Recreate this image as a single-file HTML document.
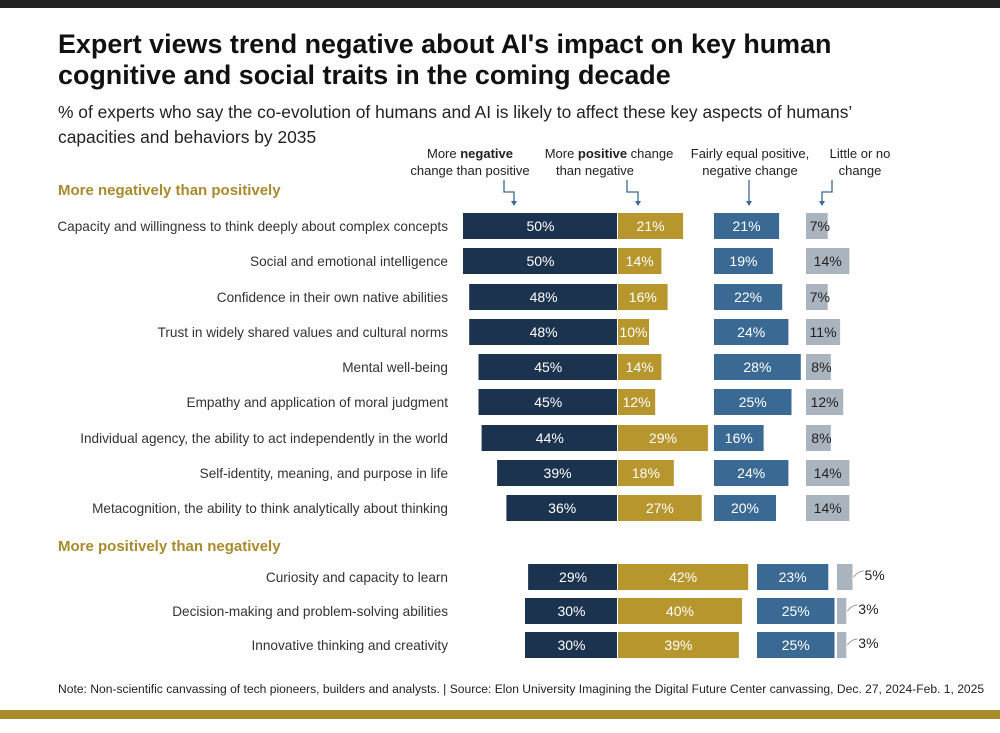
<!DOCTYPE html>
<html><head><meta charset="utf-8"><style>
body{margin:0;width:1000px;height:728px;background:#fff;overflow:hidden;font-family:"Liberation Sans",sans-serif;}
</style></head><body>
<svg width="1000" height="728" xmlns="http://www.w3.org/2000/svg" id="chart">
<rect x="0" y="0" width="1000" height="8" fill="#222"/>
<rect x="0" y="710" width="1000" height="9" fill="#a98a2c"/>
<text x="58" y="53" font-size="26.9" font-weight="bold" fill="#111">Expert views trend negative about AI's impact on key human</text>
<text x="58" y="84" font-size="26.9" font-weight="bold" fill="#111">cognitive and social traits in the coming decade</text>
<text x="58" y="118" font-size="17.4" fill="#222">% of experts who say the co-evolution of humans and AI is likely to affect these key aspects of humans’</text>
<text x="58" y="143" font-size="17.4" fill="#222">capacities and behaviors by 2035</text>
<g font-size="13" fill="#222" text-anchor="middle">
<text x="470" y="158">More <tspan font-weight="bold">negative</tspan></text><text x="470" y="175">change than positive</text>
<text x="609" y="158">More <tspan font-weight="bold">positive</tspan> change</text><text x="595" y="175">than negative</text>
<text x="750" y="158">Fairly equal positive,</text><text x="750" y="175">negative change</text>
<text x="860" y="158">Little or no</text><text x="860" y="175">change</text>
</g>
<g stroke="#3a6a94" fill="none" stroke-width="1.3">
<path d="M504 180 V192 H514 V202"/><path d="M627 180 V192 H638 V202"/><path d="M749 180 V202"/><path d="M832 180 V192 H822 V202"/>
</g>
<g fill="#3a6a94">
<path d="M511 201 h6 l-3 5z"/><path d="M635 201 h6 l-3 5z"/><path d="M746 201 h6 l-3 5z"/><path d="M819 201 h6 l-3 5z"/>
</g>
<text x="58" y="195" font-size="15" font-weight="bold" fill="#a98a2c">More negatively than positively</text>
<text x="58" y="551" font-size="15" font-weight="bold" fill="#a98a2c">More positively than negatively</text>
<g id="bars"></g>
<text x="58" y="693" font-size="12.1" fill="#222">Note: Non-scientific canvassing of tech pioneers, builders and analysts. | Source: Elon University Imagining the Digital Future Center canvassing,  Dec. 27, 2024-Feb. 1, 2025</text>
</svg>
<script>
const categories=["Capacity and willingness to think deeply about complex concepts","Social and emotional intelligence","Confidence in their own native abilities","Trust in widely shared values and cultural norms","Mental well-being","Empathy and application of moral judgment","Individual agency, the ability to act independently in the world","Self-identity, meaning, and purpose in life","Metacognition, the ability to think analytically about thinking","Curiosity and capacity to learn","Decision-making and problem-solving abilities","Innovative thinking and creativity"];
const negative=[50,50,48,48,45,45,44,39,36,29,30,30];
const positive=[21,14,16,10,14,12,29,18,27,42,40,39];
const equal=[21,19,22,24,28,25,16,24,20,23,25,25];
const little=[7,14,7,11,8,12,8,14,14,5,3,3];
const rowY=[226,261,297,332,367,402,438,473,508,577,611,645];
const NS="http://www.w3.org/2000/svg";
const g=document.getElementById('bars');
const k=3.1, mid=618, h=26;
function sx(v){return v*k;}
function rect(x,y,w,fill,name){const r=document.createElementNS(NS,'rect');r.setAttribute('x',x);r.setAttribute('y',y-h/2);r.setAttribute('width',w);r.setAttribute('height',h);r.setAttribute('fill',fill);


g.appendChild(r);}
function txt(x,y,s,fill,anchor,size,name){const t=document.createElementNS(NS,'text');t.setAttribute('x',x);t.setAttribute('y',y+5);t.setAttribute('fill',fill);t.setAttribute('text-anchor',anchor);t.setAttribute('font-size',size);t.textContent=s;


g.appendChild(t);}
categories.forEach((c,i)=>{
 const y=rowY[i], bottom=i>=9;
 txt(448,y,c,'#333','end',13.6,'category-label');
 const nw=sx(negative[i]);
 rect(mid-nw,y,nw-1,'#1c3350','bar-negative');
 txt(mid-nw/2,y,negative[i]+'%','#fff','middle',14,'value-negative');
 const pw=sx(positive[i]);
 rect(mid,y,pw,'#b8962e','bar-positive');
 txt(mid+pw/2,y,positive[i]+'%','#fff','middle',14,'value-positive');
 const ex=bottom?757:714, ew=sx(equal[i]);
 rect(ex,y,ew,'#3a6a94','bar-equal');
 txt(ex+ew/2,y,equal[i]+'%','#fff','middle',14,'value-equal');
 const lx=bottom?837:806, lw=sx(little[i]);
 rect(lx,y,lw,'#aab4bf','bar-little');
 if(bottom){
  const p=document.createElementNS(NS,'path');p.setAttribute('d',`M${lx+lw+1} ${y} q5 -6 10 -6`);p.setAttribute('stroke','#999');p.setAttribute('fill','none');
  
  
  g.appendChild(p);
  txt(lx+lw+12,y-2,little[i]+'%','#222','start',14,'value-little');
 } else {
  txt(lx+lw/2+(lw<28?3:0),y,little[i]+'%','#222','middle',14,'value-little');
 }
});
</script>
</body></html>
